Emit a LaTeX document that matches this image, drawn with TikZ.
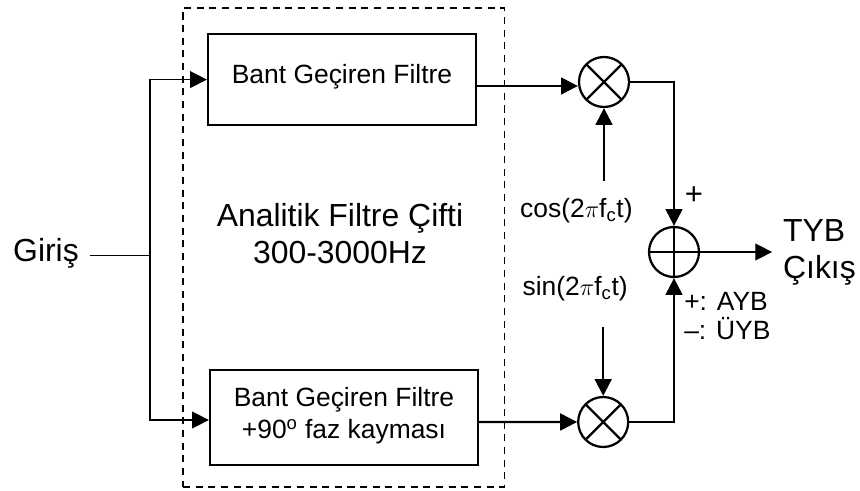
\documentclass[tikz,border=0pt]{standalone}
\usepackage{fontspec}
\setmainfont{Liberation Sans}
\usetikzlibrary{arrows.meta, positioning, calc}

\begin{document}
\begin{tikzpicture}[
  filterbox/.style={draw, line width=1.6pt, minimum width=6.7cm, align=center, inner sep=0pt, font=\fontsize{18.8}{22.4}\selectfont},
  groupbox/.style={draw, dashed, line width=1pt, dash pattern=on 5pt off 4pt, minimum width=8.03cm, minimum height=11.98cm},
  mixnode/.style={draw, circle, line width=1.6pt, minimum size=1.25cm, inner sep=0pt, path picture={
    \draw[line width=1.6pt] (path picture bounding box.north west) -- (path picture bounding box.south east);
    \draw[line width=1.6pt] (path picture bounding box.north east) -- (path picture bounding box.south west);}},
  sumnode/.style={draw, circle, line width=1.6pt, minimum size=1.25cm, inner sep=0pt, path picture={
    \draw[line width=1.6pt] (path picture bounding box.north) -- (path picture bounding box.south);
    \draw[line width=1.6pt] (path picture bounding box.west) -- (path picture bounding box.east);}},
  biglabel/.style={align=center, inner sep=4pt, font=\fontsize{22.7}{26.3}\selectfont},
  smalllabel/.style={align=left, inner sep=4pt, font=\fontsize{18.8}{21}\selectfont},
  sigthin/.style={line width=1pt},
  sigthick/.style={line width=1.6pt},
  sigarrow/.style={-{Triangle[length=12pt 0 0, width=12pt 0 0]}}
]
  \useasboundingbox (0, 0) rectangle (21.5, -12.275);

  \node[groupbox] (pair) at (8.59, -6.19) {};
  \node[filterbox, minimum height=2.28cm, text depth=8pt] (bp1) at (8.55, -1.99) {Bant Geçiren Filtre};
  \node[filterbox, minimum height=2.38cm, text depth=7pt] (bp2) at (8.6, -10.44) {Bant Geçiren Filtre\\+90\textsuperscript{o} faz kayması};
  \node[biglabel] (pairtext) at (8.5, -5.83) {Analitik Filtre Çifti\\300-3000Hz};

  \node[mixnode] (mix1) at (15.1, -2.05) {};
  \node[mixnode] (mix2) at (15.08, -10.55) {};
  \node[sumnode] (sum) at (16.85, -6.3) {};

  \node[biglabel, inner sep=0pt] (input) at (1.15, -6.33) {Giriş};
  \coordinate (split) at (3.75, -6.39);
  \node[biglabel, align=left, anchor=west] (output) at (19.43, -6.3) {TYB\\Çıkış};

  \node[smalllabel] (cos) at (14.41, -5.27) {cos(2$\pi$f\textsubscript{c}t)};
  \node[smalllabel] (sin) at (14.38, -7.22) {sin(2$\pi$f\textsubscript{c}t)};
  \node[smalllabel, inner sep=0pt, font=\fontsize{22}{24}\selectfont] (plus) at (17.35, -4.9) {+};
  \node[smalllabel, anchor=west, inner sep=0pt] (sideband) at (17.1, -7.9) {+: AYB\\--: ÜYB};

  \draw[sigthin] (input.east |- split) ++(0.27, 0) -- (split);
  \draw[sigthin, sigarrow] (split) |- (bp1.west);
  \draw[sigthin, sigarrow] (split) |- ([yshift=-0.06cm]bp2.west);

  \draw[sigthick, sigarrow] ([yshift=-0.16cm]bp1.east) -- ([yshift=-0.1cm]mix1.west);
  \draw[sigthick, sigarrow] ([yshift=-0.11cm]bp2.east) -- (mix2.west);
  \draw[sigthick, sigarrow] ([yshift=0.3cm]cos.north -| mix1) -- (mix1.south);
  \draw[sigthick, sigarrow] ([yshift=-0.5cm]sin.south -| mix2) -- (mix2.north);
  \draw[sigthick, sigarrow] (mix1.east) -| (sum.north);
  \draw[sigthick, sigarrow] (mix2.east) -| (sum.south);
  \draw[sigthin, sigarrow] (sum.east) -- ([xshift=1.8cm]sum.east);
\end{tikzpicture}
\end{document}
